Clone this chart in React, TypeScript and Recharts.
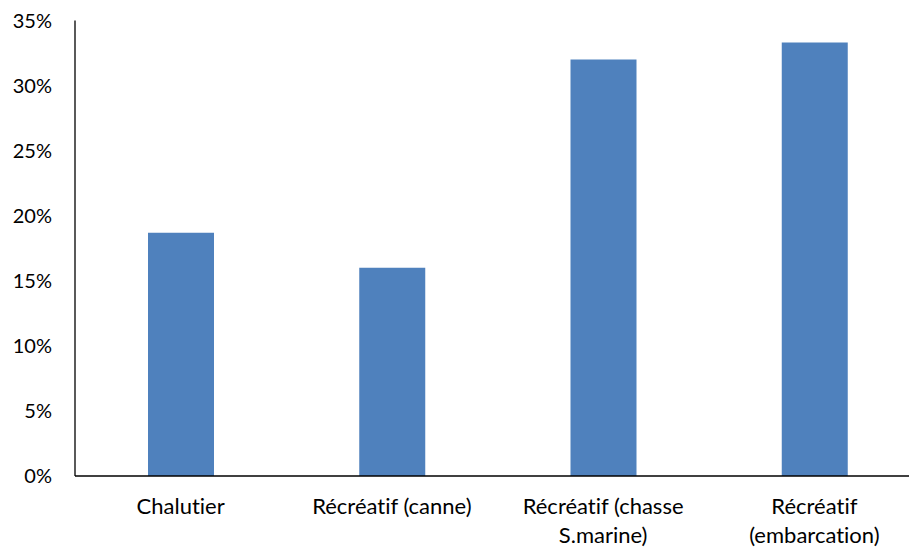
import { BarChart, Bar, XAxis, YAxis } from "recharts";

const categories = [
  "Chalutier",
  "Récréatif (canne)",
  "Récréatif (chasse\nS.marine)",
  "Récréatif\n(embarcation)",
];
const shares = [18.7, 16.0, 32.0, 33.3];
const yTicks = [0, 5, 10, 15, 20, 25, 30, 35];

const FONT = "Lato, 'Open Sans', sans-serif";

const data = categories.map((name, i) => ({ name, value: shares[i] }));

function CategoryTick({ x, y, payload }: any) {
  const lines = String(payload.value).split("\n");
  return (
    <text
      x={x}
      y={y}
      textAnchor="middle"
      fill="#000"
      fontSize={22}
      fontFamily={FONT}
      style={{ fontVariantLigatures: "none" }}
    >
      {lines.map((line, i) => (
        <tspan key={i} x={x} dy={i === 0 ? 38 : 29}>
          {line}
        </tspan>
      ))}
    </text>
  );
}

export default function App() {
  return (
    <div
      style={{
        position: "absolute",
        top: 0,
        left: 0,
        width: 909,
        height: 548,
        overflow: "hidden",
        background: "#fff",
      }}
    >
      <BarChart
        width={921}
        height={548}
        data={data}
        margin={{ top: 20.5, right: 1, left: 0, bottom: 0 }}
      >
        <XAxis
          dataKey="name"
          interval={0}
          height={72}
          tickLine={false}
          tickSize={0}
          tickMargin={0}
          axisLine={{ stroke: "#000", strokeWidth: 1.3 }}
          tick={<CategoryTick />}
        />
        <YAxis
          width={75}
          domain={[0, 35]}
          ticks={yTicks}
          interval={0}
          tickFormatter={(v: number) => `${v}%`}
          tickLine={false}
          tickSize={21}
          tickMargin={2}
          axisLine={{ stroke: "#000", strokeWidth: 1.3 }}
          tick={{ fill: "#000", fontSize: 20, fontFamily: FONT }}
        />
        <Bar dataKey="value" fill="#4F81BD" barSize={66} isAnimationActive={false} />
      </BarChart>
    </div>
  );
}
